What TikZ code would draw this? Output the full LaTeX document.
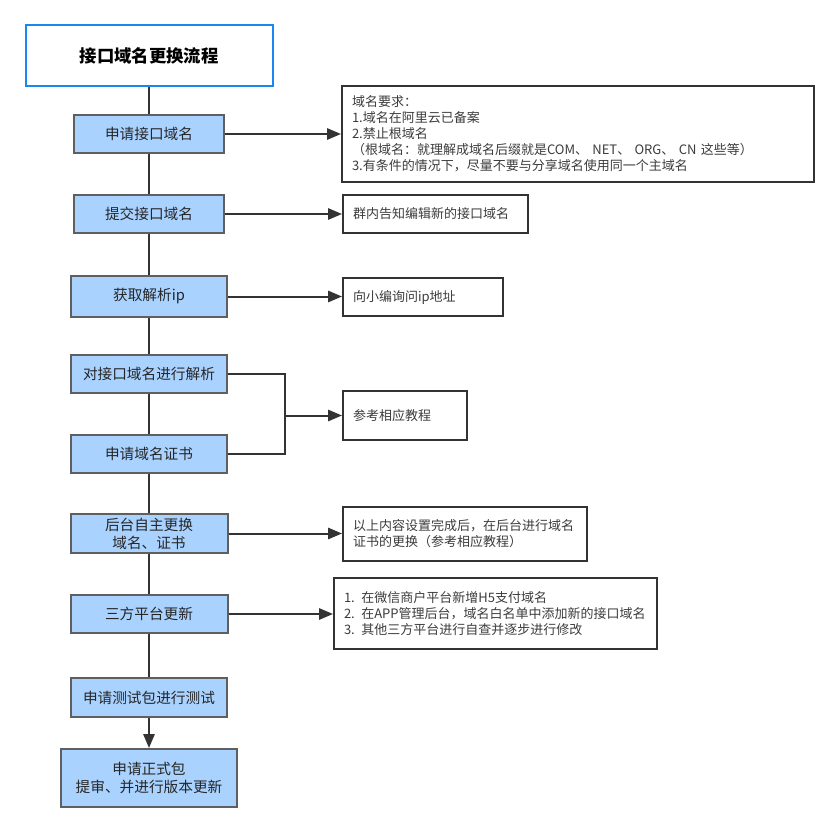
\documentclass[tikz,border=0pt]{standalone}
\usepackage{fontspec}
\setmainfont{Noto Sans CJK SC}
\usetikzlibrary{arrows.meta,positioning}
\definecolor{linegray}{RGB}{51,51,51}
\definecolor{boxblue}{RGB}{169,210,255}
\definecolor{boxedge}{RGB}{95,95,95}
\definecolor{titleblue}{RGB}{24,136,240}
\definecolor{notetext}{RGB}{60,60,60}

\begin{document}
\begin{tikzpicture}[
      x=0.75pt, y=-0.75pt,
      stepbox/.style={draw=boxedge, line width=1.5pt, fill=boxblue, minimum width=117pt, minimum height=28.5pt,
        inner sep=0pt, align=center, text=black!85, font=\fontsize{11}{13.5}\selectfont},
      notebox/.style={draw=linegray, line width=1.5pt, fill=white, align=left, inner xsep=7.5pt, inner ysep=0pt,
        text=notetext, font=\fontsize{9.75}{12}\selectfont},
      link/.style={draw=linegray, line width=1.5pt},
      tip/.style={link, -{Triangle[length=10.5pt,width=8.5pt]}}
    ]
      \useasboundingbox (0,0) rectangle (840,832);
      \node[draw=titleblue, line width=1.5pt, minimum width=185.25pt, minimum height=45.75pt,
        font=\fontsize{13}{15}\selectfont\bfseries] (title) at (149,55.5) {接口域名更换流程};

      % main steps
      \node[stepbox, minimum width=112.5pt] (apply) at (149,134) {申请接口域名};
      \node[stepbox, minimum width=112.5pt] (submit) at (149,214) {提交接口域名};
      \node[stepbox, minimum height=30.75pt] (getip) at (149,296.5) {获取解析ip};
      \node[stepbox] (resolve) at (149,374) {对接口域名进行解析};
      \node[stepbox] (cert) at (149,454) {申请域名证书};
      \node[stepbox, minimum width=117.75pt, minimum height=29.25pt] (swap) at (149,533.5) {后台自主更换\\域名、证书};
      \node[stepbox, minimum width=117.75pt] (third) at (149,614) {三方平台更新};
      \node[stepbox, minimum height=29.25pt] (test) at (149,697.5) {申请测试包进行测试};
      \node[stepbox, minimum width=132pt, minimum height=43.5pt] (release) at (149,778) {申请正式包\\提审、并进行版本更新};

      % notes
      \node[notebox, text width=339pt, minimum height=72pt] (rules) at (578,134) {域名要求：\\
        1.域名在阿里云已备案\\
        2.禁止根域名\\
        （根域名：就理解成域名后缀就是COM、 NET、 ORG、 CN 这些等）\\
        3.有条件的情况下，尽量不要与分享域名使用同一个主域名};
      \node[notebox, text width=123.75pt, minimum height=28.5pt] (notify) at (435.5,214) {群内告知编辑新的接口域名};
      \node[notebox, text width=105pt, minimum height=28.5pt] (askip) at (423,297) {向小编询问ip地址};
      \node[notebox, text width=78pt, minimum height=36.75pt] (guide) at (405,415.5) {参考相应教程};
      \node[notebox, text width=168pt, minimum height=40.5pt] (done) at (465,534) {以上内容设置完成后，在后台进行域名\\证书的更换（参考相应教程）};
      \node[notebox, text width=227.25pt, minimum height=53.25pt] (wxapp) at (495.5,613.5) {1. 在微信商户平台新增H5支付域名\\
        2. 在APP管理后台，域名白名单中添加新的接口域名\\
        3. 其他三方平台进行自查并逐步进行修改};

      \draw[link] (title) -- (apply) -- (submit) -- (getip) -- (resolve) -- (cert) -- (swap) -- (third) -- (test);
      \draw[tip] (test) -- (release);

      \draw[tip] (apply.east) -- (apply.east -| rules.west);
      \draw[tip] (submit.east) -- (submit.east -| notify.west);
      \draw[tip] (getip.east) -- (getip.east -| askip.west);
      \coordinate (jn) at (285,415.5);
      \draw[link] (resolve.east) -| (jn) |- (cert.east);
      \draw[tip] (jn) -- (guide.west);
      \draw[tip] (swap.east) -- (swap.east -| done.west);
      \draw[tip] (third.east) -- (third.east -| wxapp.west);
    \end{tikzpicture}
\end{document}
